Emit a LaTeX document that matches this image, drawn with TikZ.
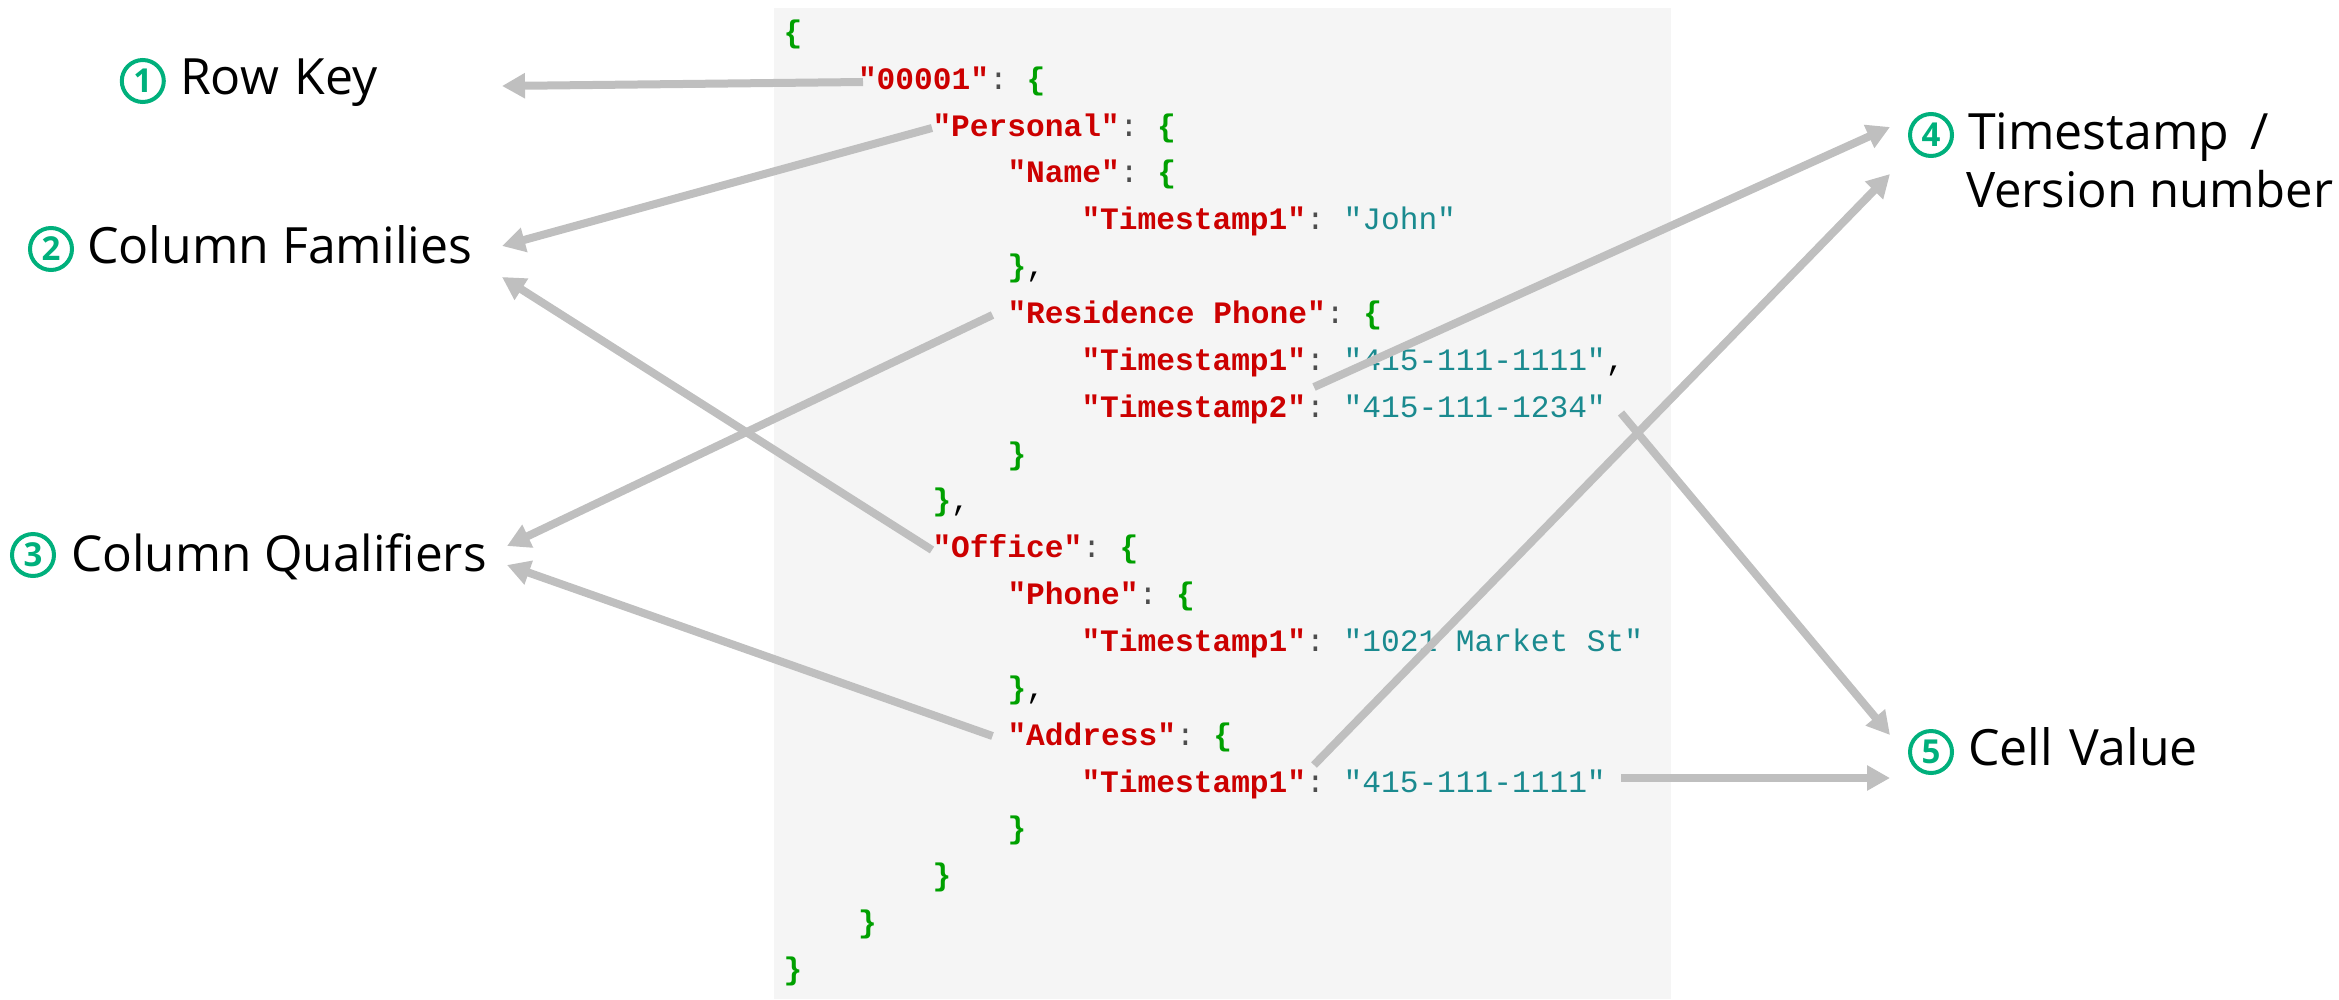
\documentclass[tikz,border=0pt]{standalone}
\usepackage{fontspec}
\usetikzlibrary{arrows.meta,calc}
\setmainfont{Open Sans}
\setmonofont{Liberation Mono}
\definecolor{panelbg}{HTML}{F5F5F5}
\definecolor{keyred}{HTML}{CC0000}
\definecolor{bracegreen}{HTML}{00A000}
\definecolor{strteal}{HTML}{1A8A8F}
\definecolor{colongray}{HTML}{4D4D4D}
\definecolor{linegray}{HTML}{BFBFBF}
\definecolor{numgreen}{HTML}{00B07C}
\newcommand{\K}[1]{\textcolor{keyred}{\bfseries"#1"}}
\newcommand{\C}{\textcolor{colongray}{:}}
\newcommand{\Bo}{\textcolor{bracegreen}{\bfseries\{}}
\newcommand{\Bc}{\textcolor{bracegreen}{\bfseries\}}}
\newcommand{\V}[1]{\textcolor{strteal}{"#1"}}
\newcommand{\Cm}{\textcolor{black}{,}}
\tikzset{
  codeline/.style={anchor=base west,inner sep=0pt,outer sep=0pt,font=\fontsize{31.2}{31.2}\selectfont\ttfamily},
  lab/.style={anchor=base west,inner sep=0pt,outer sep=0pt,font=\fontsize{50}{50}\selectfont},
  numc/.style={circle,draw=numgreen,line width=4pt,minimum size=42pt,inner sep=0pt,outer sep=0pt,text=numgreen,font=\fontsize{33}{33}\selectfont\bfseries},
  conn/.style={draw=linegray,line width=8pt,-{Triangle[length=23pt,width=24pt,fill=linegray]}},
}
\begin{document}
\begin{tikzpicture}[x=1pt,y=-1pt]
\useasboundingbox (0,0) rectangle (2339,999);
\fill[panelbg] (774,8) rectangle (1671,999);
% code lines
\node[codeline] (l0) at (783.5,42) {\Bo};
\node[codeline] (l1) at (858,89) {\K{00001}\C{} \Bo};
\node[codeline] (l2) at (932.5,136) {\K{Personal}\C{} \Bo};
\node[codeline] (l3) at (1007.5,182.5) {\K{Name}\C{} \Bo};
\node[codeline] (l4) at (1081.5,229.5) {\K{Timestamp1}\C{} \V{John}};
\node[codeline] (l5) at (1007.5,276.5) {\Bc\Cm};
\node[codeline] (l6) at (1007.5,323) {\K{Residence Phone}\C{} \Bo};
\node[codeline] (l7) at (1081.5,370) {\K{Timestamp1}\C{} \V{415-111-1111}\Cm};
\node[codeline] (l8) at (1081.5,417) {\K{Timestamp2}\C{} \V{415-111-1234}};
\node[codeline] (l9) at (1007.5,464) {\Bc};
\node[codeline] (l10) at (932.5,510.5) {\Bc\Cm};
\node[codeline] (l11) at (932.5,557.5) {\K{Office}\C{} \Bo};
\node[codeline] (l12) at (1007.5,604.5) {\K{Phone}\C{} \Bo};
\node[codeline] (l13) at (1081.5,651) {\K{Timestamp1}\C{} \V{1021 Market St}};
\node[codeline] (l14) at (1007.5,698) {\Bc\Cm};
\node[codeline] (l15) at (1007.5,745) {\K{Address}\C{} \Bo};
\node[codeline] (l16) at (1081.5,792) {\K{Timestamp1}\C{} \V{415-111-1111}};
\node[codeline] (l17) at (1007.5,838.5) {\Bc};
\node[codeline] (l18) at (932.5,885.5) {\Bc};
\node[codeline] (l19) at (858,932.5) {\Bc};
\node[codeline] (l20) at (783.5,979) {\Bc};
% labels
\node[numc] (n1) at (142.8,81) {1};
\node[lab] (t1) at (180,94.5) {Row\hspace{3pt} Key};
\node[numc] (n2) at (51,249) {2};
\node[lab] (t2) at (87,263.5) {Column Families};
\node[numc] (n3) at (33,555) {3};
\node[lab,font=\fontsize{49.5}{49.5}\selectfont] (t3) at (71,571.5) {Column Qualifiers};
\node[numc] (n4) at (1931,135) {4};
\node[lab] (t4) at (1968,149.5) {Timestamp\hspace{8pt} /};
\node[lab,font=\fontsize{49}{49}\selectfont] (t4b) at (1966,207.5) {Version number};
\node[numc] (n5) at (1931,752) {5};
\node[lab] (t5) at (1968,765.5) {Cell\hspace{4pt} Value};
% connectors
\draw[conn] ([shift={(5,-7)}]l1.base west) -- ([shift={(322,-8.5)}]t1.base west);
\draw[conn] ([shift={(-0.5,-8)}]l2.base west) -- ([shift={(415,-17.5)}]t2.base west);
\draw[conn] ([shift={(-0.5,-7.5)}]l11.base west) -- ([shift={(415,13.5)}]t2.base west);
\draw[conn] ([shift={(-15,-8)}]l6.base west) -- ([shift={(436,-25.5)}]t3.base west);
\draw[conn] ([shift={(-15,-9)}]l15.base west) -- ([shift={(436,-6.5)}]t3.base west);
\draw[conn] ([shift={(232.5,-30)}]l8.base west) -- ([shift={(-78,-22.5)}]t4.base west);
\draw[conn] ([shift={(232.5,-27)}]l16.base west) -- ([shift={(-78,24.5)}]t4.base west);
\draw[conn] ([shift={(539.5,-4)}]l8.base west) -- ([shift={(-78,-30.5)}]t5.base west);
\draw[conn] ([shift={(539.5,-14)}]l16.base west) -- ([shift={(-78,12.5)}]t5.base west);
\end{tikzpicture}
\end{document}
